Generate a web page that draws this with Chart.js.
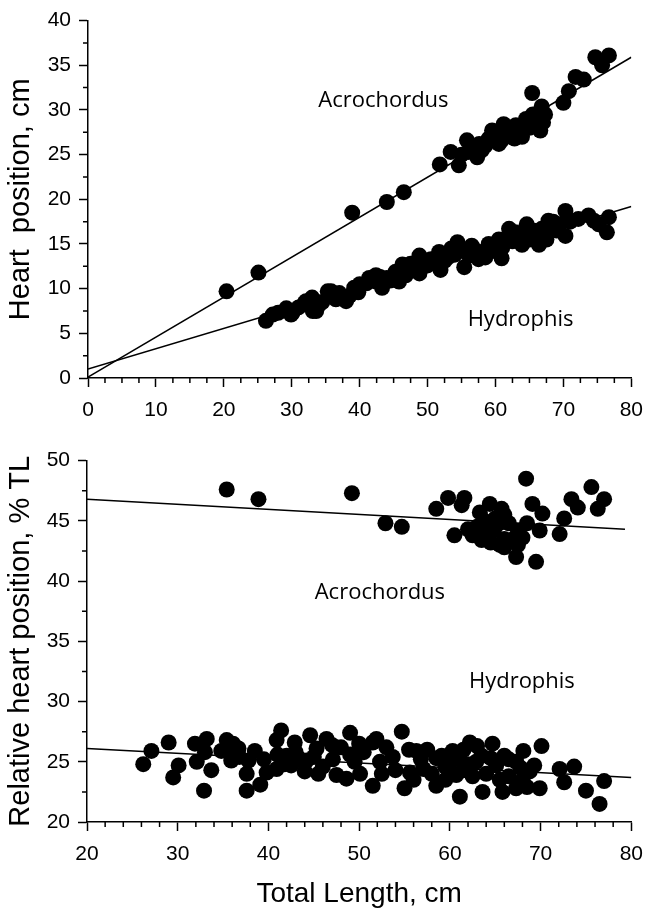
<!DOCTYPE html>
<html>
<head>
<meta charset="utf-8">
<script src="https://cdn.jsdelivr.net/npm/chart.js@4.4.1/dist/chart.umd.min.js"></script>
<style>
    html, body { margin: 0; padding: 0; background: #fff; }
    canvas { position: absolute; left: 0; }
    #heartChart { top: 0; }
    #relativeChart { top: 440px; }
</style>
</head>
<body>
<canvas id="heartChart" width="654" height="440"></canvas>
<canvas id="relativeChart" width="654" height="480"></canvas>
<script>
// Heart position (cm) vs total length (cm)
const acroLen = [20.4, 25.1, 38.9, 44.0, 46.5, 51.8, 53.4, 54.6, 55.0, 55.8, 56.0, 56.5, 57.3, 57.6, 58.0,
    58.5, 59.0, 59.5, 60.0, 60.5, 60.9, 61.2, 61.5, 62.0, 62.5, 62.8, 63.0, 63.8, 63.9, 64.0, 64.5,
    64.9, 65.0, 65.4, 65.5, 66.0, 66.2, 66.6, 66.8, 67.0, 67.3, 70.0, 70.8, 71.8, 73.0, 74.7, 75.7,
    76.7];
const acroHeart = [9.7, 11.8, 18.5, 19.7, 20.8, 23.9, 25.3, 23.8, 25.0, 26.6, 25.3, 25.7, 24.7, 26.2, 25.5,
    26.0, 26.8, 27.7, 27.2, 26.2, 26.6, 28.4, 27.0, 27.8, 27.3, 26.8, 28.3, 28.1, 27.0, 28.0, 29.0,
    28.8, 28.0, 31.9, 29.5, 29.0, 28.3, 27.7, 30.4, 28.6, 29.5, 30.8, 32.1, 33.7, 33.4, 35.9, 35.0,
    36.1];

const hydroLen = [26.2, 27.2, 28.0, 29.2, 29.9, 30.1, 31.0, 31.9, 32.1, 33.0, 33.1, 33.6, 34.0, 34.5, 35.3,
    35.8, 36.5, 37.0, 37.5, 38.0, 38.5, 39.2, 39.8, 40.0, 41.0, 41.4, 42.4, 42.4, 43.0, 43.3, 44.0,
    44.5, 45.3, 45.8, 46.3, 46.8, 47.0, 47.5, 48.0, 48.8, 48.8, 49.5, 50.0, 50.5, 51.7, 51.9, 52.5,
    53.0, 53.5, 54.0, 54.4, 55.0, 55.4, 56.1, 56.5, 57.0, 57.5, 58.0, 58.5, 59.0, 59.5, 60.0, 60.5,
    60.9, 61.0, 61.5, 62.0, 62.5, 62.9, 63.0, 63.9, 64.0, 64.6, 65.0, 65.5, 65.8, 66.4, 66.8, 67.0,
    67.5, 67.8, 68.0, 68.5, 69.0, 69.5, 70.3, 70.3, 71.0, 72.2, 73.7, 74.5, 75.2, 76.4, 76.7];
const hydroHeart = [6.4, 7.1, 7.3, 7.8, 7.1, 7.3, 7.9, 8.4, 8.6, 9.0, 7.5, 7.5, 8.2, 8.5, 9.7,
    9.7, 8.8, 9.5, 9.0, 8.6, 9.2, 10.1, 9.6, 10.5, 10.6, 11.2, 11.5, 10.8, 11.3, 10.1, 11.2,
    10.9, 11.9, 10.8, 12.7, 11.5, 12.2, 12.8, 12.5, 13.7, 11.7, 13.0, 12.6, 13.3, 14.1, 12.1, 13.1,
    13.5, 14.5, 13.8, 15.2, 14.3, 12.4, 13.7, 14.8, 14.3, 13.3, 14.1, 13.5, 15.0, 14.2, 14.8, 15.5,
    13.4, 14.6, 15.5, 16.7, 15.3, 16.3, 15.8, 14.9, 16.2, 17.2, 15.5, 16.5, 15.8, 14.9, 16.7, 16.0,
    15.5, 17.6, 16.8, 17.5, 16.5, 17.2, 18.7, 15.9, 17.5, 17.8, 18.2, 17.6, 17.2, 16.3, 18.0];

// Relative heart position (% TL) vs total length (cm)
const acroRelLen = [35.4, 38.9, 49.2, 52.9, 54.7, 58.5, 59.8, 60.5, 61.3, 61.6, 62.0, 62.5, 62.8, 63.0,
    63.3, 63.5, 63.8, 64.0, 64.4, 64.5, 64.8, 65.0, 65.1, 65.5, 65.7, 65.8, 66.0, 66.0, 66.0, 66.3,
    66.5, 67.0, 67.3, 67.5, 67.5, 68.0, 68.4, 68.5, 69.1, 69.5, 69.9, 70.2, 72.1, 72.6, 73.4, 74.1,
    75.6, 76.3, 77.0];
const acroRel = [47.6, 46.8, 47.3, 44.8, 44.5, 46.0, 46.9, 43.8, 46.3, 46.9, 44.3, 43.8, 44.0, 44.5,
    45.7, 43.4, 45.0, 44.0, 46.4, 43.2, 44.2, 45.2, 44.6, 43.0, 46.0, 44.9, 43.5, 42.8, 45.5, 43.2,
    44.8, 43.5, 42.0, 44.2, 43.0, 43.6, 48.5, 44.8, 46.4, 41.6, 44.2, 45.6, 43.9, 45.2, 46.8, 46.1,
    47.8, 46.0, 46.8];

const hydroRelLen = [26.2, 27.1, 29.0, 29.5, 30.1, 31.9, 32.1, 32.9, 33.0, 33.2, 33.7, 34.8, 35.4, 35.5,
    35.9, 36.1, 36.7, 36.8, 37.6, 37.6, 37.8, 38.5, 39.1, 39.5, 39.8, 40.9, 40.9, 41.0, 41.4, 41.8,
    42.0, 42.5, 42.9, 43.0, 43.5, 44.0, 44.2, 44.6, 45.0, 45.3, 45.5, 46.0, 46.4, 47.0, 47.1, 47.5,
    48.0, 48.6, 49.0, 49.0, 49.5, 50.0, 50.1, 50.5, 51.5, 51.5, 51.9, 52.3, 52.5, 53.0, 53.7, 54.0,
    54.7, 55.0, 55.5, 55.6, 56.0, 56.3, 56.8, 57.0, 57.1, 57.5, 58.0, 58.5, 58.5, 59.1, 59.5, 59.5,
    60.0, 60.3, 60.7, 61.0, 61.1, 61.5, 61.5, 62.0, 62.2, 62.5, 62.9, 63.0, 63.5, 63.6, 64.0, 64.5,
    64.7, 65.1, 65.5, 65.8, 66.0, 66.5, 66.5, 67.3, 67.3, 67.8, 68.0, 68.1, 68.5, 68.8, 69.3, 69.9,
    70.1, 72.1, 72.6, 73.7, 75.0, 76.5, 77.0];
const hydroRel = [24.8, 25.9, 26.6, 23.7, 24.7, 26.5, 25.0, 22.6, 25.8, 26.9, 24.3, 25.9, 26.8, 26.2,
    25.1, 26.5, 26.1, 25.4, 22.6, 24.0, 25.1, 25.9, 23.1, 25.2, 24.1, 24.4, 26.8, 25.6, 27.6, 24.8,
    25.5, 24.7, 26.6, 25.8, 25.2, 24.2, 25.1, 27.2, 25.4, 26.1, 24.0, 24.6, 26.9, 26.4, 25.2, 23.9,
    26.2, 23.6, 27.4, 25.6, 25.0, 26.5, 24.0, 25.8, 26.6, 23.0, 26.9, 25.0, 24.0, 26.2, 25.4, 24.3,
    27.5, 22.8, 26.0, 24.1, 23.5, 25.9, 25.2, 25.8, 24.4, 26.0, 24.0, 23.0, 25.3, 25.5, 24.6, 23.5,
    24.9, 25.9, 23.9, 25.2, 22.1, 24.3, 26.0, 24.8, 26.6, 23.8, 25.0, 26.3, 25.5, 22.5, 24.0, 25.3,
    26.5, 24.7, 23.5, 22.5, 25.5, 23.8, 25.2, 25.0, 22.8, 24.5, 23.5, 25.9, 22.9, 24.2, 24.7, 22.8,
    26.3, 24.4, 23.3, 24.6, 22.6, 21.5, 23.4];

// fitted regression lines (end points)
const acroFitX = [0, 80], acroFitY = [0.1, 35.9];
const hydroFitX = [0, 80], hydroFitY = [1.0, 19.2];
const acroRelFitX = [20, 79.3], acroRelFitY = [46.8, 44.3];
const hydroRelFitX = [20, 80], hydroRelFitY = [26.1, 23.7];

const tickFont = { family: '"Liberation Sans", Arial, sans-serif', size: 21 };
const titleFont = { family: '"Liberation Sans", Arial, sans-serif', size: 29 };
const labelFont = '22px "Open Sans", sans-serif';

Chart.defaults.color = '#000';
Chart.defaults.animation = false;

const toPoints = (xs, ys) => xs.map((x, i) => ({ x: x, y: ys[i] }));

// short unlabelled ticks between the major ones
const minorTicks = {
    id: 'minorTicks',
    afterDraw(chart, args, opts) {
        const ctx = chart.ctx;
        ctx.save();
        ctx.strokeStyle = '#000';
        ctx.lineWidth = 1.5;
        ['x', 'y'].forEach(id => {
            const scale = chart.scales[id];
            const step = opts[id];
            const major = scale.options.ticks.stepSize;
            ctx.beginPath();
            for (let v = scale.min; v <= scale.max + 1e-6; v += step) {
                const r = Math.abs(v / major - Math.round(v / major));
                if (r < 1e-6) continue;
                const p = scale.getPixelForValue(v);
                if (id === 'x') {
                    ctx.moveTo(p, scale.top);
                    ctx.lineTo(p, scale.top + 5);
                } else {
                    ctx.moveTo(scale.right - 5, p);
                    ctx.lineTo(scale.right, p);
                }
            }
            ctx.stroke();
        });
        ctx.restore();
    }
};

// species names written inside the plot
const speciesLabels = {
    id: 'speciesLabels',
    afterDraw(chart, args, opts) {
        const ctx = chart.ctx;
        ctx.save();
        ctx.font = labelFont;
        ctx.fillStyle = '#000';
        ctx.textAlign = 'left';
        ctx.textBaseline = 'alphabetic';
        opts.items.forEach(item => {
            ctx.fillText(item.text,
                chart.scales.x.getPixelForValue(item.x),
                chart.scales.y.getPixelForValue(item.y));
        });
        ctx.restore();
    }
};

function axis(min, max, step, extra) {
    return Object.assign({
        type: 'linear',
        min: min,
        max: max,
        ticks: { stepSize: step, font: tickFont, color: '#000' },
        grid: { drawOnChartArea: false, drawTicks: true, tickLength: 9, tickWidth: 1.5, tickColor: '#000' },
        border: { display: true, color: '#000', width: 1.5 }
    }, extra);
}

function makeChart(canvasId, series, fits, scales, padding, minor, labels) {
    const ctx = document.getElementById(canvasId).getContext('2d');
    const datasets = [];
    series.forEach(s => datasets.push({
        data: toPoints(s[0], s[1]),
        backgroundColor: '#000',
        borderWidth: 0,
        pointRadius: 8,
        order: 0
    }));
    fits.forEach(f => datasets.push({
        data: toPoints(f[0], f[1]),
        showLine: true,
        borderColor: '#000',
        borderWidth: 1.5,
        pointRadius: 0,
        order: 1
    }));
    return new Chart(ctx, {
        type: 'scatter',
        data: { datasets: datasets },
        options: {
            responsive: false,
            layout: { padding: padding },
            plugins: {
                legend: { display: false },
                tooltip: { enabled: false },
                minorTicks: minor,
                speciesLabels: { items: labels }
            },
            scales: scales
        },
        plugins: [minorTicks, speciesLabels]
    });
}

makeChart('heartChart',
    [[acroLen, acroHeart], [hydroLen, hydroHeart]],
    [[acroFitX, acroFitY], [hydroFitX, hydroFitY]],
    {
        x: axis(0, 80, 10, {
            ticks: { stepSize: 10, font: tickFont, color: '#000', padding: 11 },
            afterFit: s => { s.height = 62; }
        }),
        y: axis(0, 40, 5, {
            ticks: { stepSize: 5, font: tickFont, color: '#000', padding: 8 },
            title: { display: true, text: 'Heart  position, cm', font: titleFont, padding: { top: 4, bottom: 0 } },
            afterFit: s => { s.width = 88; }
        })
    },
    { left: 0, top: 15, right: 21, bottom: 0 },
    { x: 2.5, y: 2.5 },
    [
        { text: 'Acrochordus', x: 33.9, y: 30.3 },
        { text: 'Hydrophis', x: 55.9, y: 5.8 }
    ]
);

makeChart('relativeChart',
    [[acroRelLen, acroRel], [hydroRelLen, hydroRel]],
    [[acroRelFitX, acroRelFitY], [hydroRelFitX, hydroRelFitY]],
    {
        x: axis(20, 80, 10, {
            ticks: { stepSize: 10, font: tickFont, color: '#000', padding: 11 },
            title: { display: true, text: 'Total Length, cm', font: { family: titleFont.family, size: 28 }, padding: { top: 0, bottom: 9 } },
            afterFit: s => { s.height = 98; }
        }),
        y: axis(20, 50, 5, {
            ticks: { stepSize: 5, font: tickFont, color: '#000', padding: 8 },
            title: { display: true, text: 'Relative heart position, % TL', font: titleFont, padding: { top: 4, bottom: 0 } },
            afterFit: s => { s.width = 87; }
        })
    },
    { left: 0, top: 18, right: 22, bottom: 0 },
    { x: 2, y: 2.5 },
    [
        { text: 'Acrochordus', x: 45.1, y: 38.5 },
        { text: 'Hydrophis', x: 62.1, y: 31.1 }
    ]
);
</script>
</body>
</html>
